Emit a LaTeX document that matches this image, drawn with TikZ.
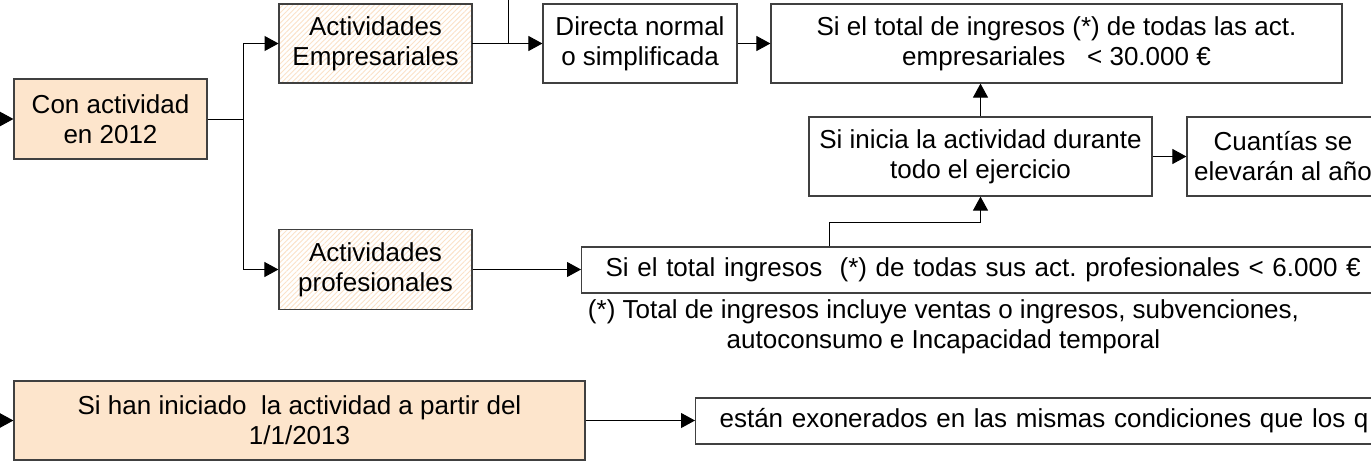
\documentclass[tikz,border=0pt]{standalone}
\usepackage{fontspec}
\setmainfont{Liberation Sans}
\usetikzlibrary{arrows.meta,patterns.meta}
\definecolor{peachfill}{RGB}{253,229,204}
\definecolor{hatchcol}{RGB}{251,226,200}
\definecolor{linegray}{RGB}{64,64,64}
\newcommand\fs{\fontsize{26}{30}\selectfont\frenchspacing}
\tikzset{
  base/.style={draw=linegray, line width=1.2pt, inner sep=0pt, align=center, font=\fs},
  peach/.style={base, fill=peachfill},
  hatch/.style={base, preaction={fill=white}, pattern={Lines[angle=45,distance=3.6pt,line width=0.9pt]}, pattern color=hatchcol},
  plain/.style={base, fill=white},
  arr/.style={-{Triangle[length=14pt,width=15pt]}, line width=1pt, draw=black},
  ln/.style={line width=1pt, draw=black}
}
\begin{document}
\begin{tikzpicture}[x=1pt,y=-1pt]
\useasboundingbox (0,0) rectangle (1371,461);
\clip (0,0) rectangle (1371,461);
\fill[white] (0,0) rectangle (1371,461);
% nodes
\node[peach, minimum width=193pt, minimum height=80pt] (con) at (110.5,119) {Con actividad\\en 2012};
\node[hatch, minimum width=193pt, minimum height=79pt] (emp) at (375.5,43.5) {Actividades\\Empresariales};
\node[hatch, minimum width=193pt, minimum height=80pt] (prof) at (375.5,269.5) {Actividades\\profesionales};
\node[plain, minimum width=194pt, minimum height=79pt] (dir) at (640,43.5) {Directa normal\\o simplificada};
\node[plain, minimum width=571pt, minimum height=79pt] (temp) at (1056.5,43.5) {Si el total de ingresos (*) de todas las act.\\empresariales\ \ \ < 30.000 €};
\node[plain, minimum width=343pt, minimum height=79pt] (ini) at (980.5,156.5) {Si inicia la actividad durante\\todo el ejercicio};
\node[plain, minimum width=192pt, minimum height=79pt] (cua) at (1283,156.5) {Cuantías se\\elevarán al año};
\node[plain, anchor=west, minimum height=46pt, inner xsep=24pt, text width=760pt, align=left] (tprof) at (581,270) {Si el total ingresos\ \ (*) de todas sus act. profesionales < 6.000 €};
\node[font=\fs, align=center, inner sep=0pt] (nota) at (943.5,327) {(*) Total de ingresos incluye ventas o ingresos, subvenciones,\\autoconsumo e Incapacidad temporal};
\node[peach, minimum width=571pt, minimum height=79pt] (han) at (299.5,420.5) {Si han iniciado\ \ la actividad a partir del\\1/1/2013};
\node[plain, anchor=west, minimum height=46pt, inner xsep=24pt, text width=700pt, align=left] (est) at (695,421) {están exonerados en las mismas condiciones que los q};
% coordinates
\coordinate (inA) at (-10,119);
\coordinate (inB) at (-10,420.5);
\coordinate (br) at (243,119);
\coordinate (topc) at (508,-10);
\coordinate (elb) at (829,222);
% connectors
\draw[arr] (inA) -- (con.west);
\draw[arr] (inB) -- (han.west);
\draw[ln] (con.east) -- (br);
\draw[arr] (br) |- (emp.west);
\draw[arr] (br) |- (prof.west);
\draw[ln] (topc) -- (topc |- emp.east);
\draw[arr] (emp.east) -- (dir.west);
\draw[arr] (dir.east) -- (temp.west);
\draw[arr] (ini.north) -- (ini.north |- temp.south);
\draw[arr] (ini.east) -- (cua.west);
\draw[arr] (prof.east) -- (prof.east -| tprof.west);
\draw[arr] (elb |- tprof.north) -- (elb) -| (ini.south);
\draw[arr] (han.east) -- (han.east -| est.west);
\end{tikzpicture}
\end{document}
